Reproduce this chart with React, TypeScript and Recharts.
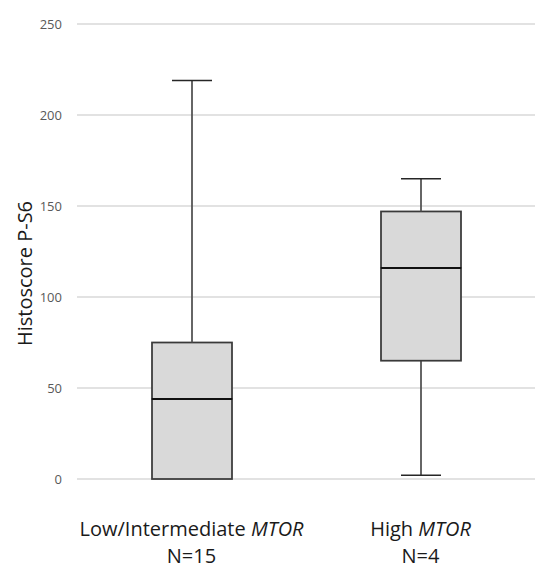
import React from "react";
import {
  ComposedChart, Bar, XAxis, YAxis, CartesianGrid,
} from "recharts";

// box plot values (Histoscore P-S6)
const groups = ["Low/Intermediate", "High"];
const counts = [15, 4];
const minVals = [0, 2];
const q1Vals = [0, 65];
const medianVals = [44, 116];
const q3Vals = [75, 147];
const maxVals = [219, 165];
const yTicks = [0, 50, 100, 150, 200, 250];

const data = groups.map((g, i) => ({
  name: g,
  n: counts[i],
  base: minVals[i],
  lowWhisker: q1Vals[i] - minVals[i],
  lowBox: medianVals[i] - q1Vals[i],
  highBox: q3Vals[i] - medianVals[i],
  highWhisker: maxVals[i] - q3Vals[i],
}));

const FONT = "'Open Sans', 'DejaVu Sans', sans-serif";
const BOX_FILL = "#d9d9d9";
const BOX_STROKE = "#3a3a3a";
const WHISKER = "#505050";
const CAP = 40;

const Empty = () => null;

const LowWhisker = (p: any) => {
  const { x, y, width, height } = p;
  if (!height || height <= 0) return null;
  const cx = x + width / 2;
  return (
    <g>
      <line x1={cx} x2={cx} y1={y} y2={y + height} stroke={WHISKER} strokeWidth={1.75} />
      <line x1={cx - CAP / 2} x2={cx + CAP / 2} y1={y + height} y2={y + height} stroke="#262626" strokeWidth={1.5} />
    </g>
  );
};

const HighWhisker = (p: any) => {
  const { x, y, width, height } = p;
  if (!height || height <= 0) return null;
  const cx = x + width / 2;
  return (
    <g>
      <line x1={cx} x2={cx} y1={y} y2={y + height} stroke={WHISKER} strokeWidth={1.75} />
      <line x1={cx - CAP / 2} x2={cx + CAP / 2} y1={y} y2={y} stroke="#262626" strokeWidth={1.5} />
    </g>
  );
};

const BoxPart = (p: any) => {
  const { x, y, width, height } = p;
  return (
    <rect x={x} y={y} width={width} height={Math.max(height, 0)} fill={BOX_FILL} stroke={BOX_STROKE} strokeWidth={1.75} />
  );
};

const UpperBox = (p: any) => {
  const { x, y, width, height } = p;
  return (
    <g>
      <rect x={x} y={y} width={width} height={Math.max(height, 0)} fill={BOX_FILL} stroke={BOX_STROKE} strokeWidth={1.75} />
      <line x1={x} x2={x + width} y1={y + height} y2={y + height} stroke="#111" strokeWidth={2} />
    </g>
  );
};

const GroupTick = (p: any) => {
  const { x, y, payload } = p;
  const row = data[payload.index] ?? data.find((d) => d.name === payload.value);
  return (
    <text x={x} y={y} textAnchor="middle" fontFamily={FONT} fontSize={20} fill="#1a1a1a">
      <tspan x={x} dy={49}>
        {row.name} <tspan fontStyle="italic">MTOR</tspan>
      </tspan>
      <tspan x={x} dy={27}>N={row.n}</tspan>
    </text>
  );
};

const YLabel = (p: any) => {
  const vb = p.viewBox;
  const cx = 24;
  const cy = vb.y + vb.height / 2 + 22;
  return (
    <text
      x={cx}
      y={cy}
      transform={`rotate(-90, ${cx}, ${cy})`}
      textAnchor="middle"
      dominantBaseline="central"
      fontFamily={FONT}
      fontSize={20}
      fill="#1a1a1a"
    >
      Histoscore P-S6
    </text>
  );
};

export default function App() {
  return (
    <div style={{ position: "absolute", left: 0, top: 0, width: 540, height: 568, background: "#fff" }}>
      <ComposedChart
        width={540}
        height={568}
        data={data}
        margin={{ top: 24, right: 5, left: 0, bottom: 0 }}
        barCategoryGap="0%"
      >
        <CartesianGrid vertical={false} stroke="#d9d9d9" strokeWidth={1.5} />
        <XAxis
          dataKey="name"
          height={89}
          axisLine={false}
          tickLine={false}
          interval={0}
          tick={<GroupTick />}
        />
        <YAxis
          width={77}
          domain={[0, 250]}
          ticks={yTicks}
          axisLine={false}
          tickLine={false}
          tickMargin={9}
          tick={{ fill: "#595959", fontSize: 13, fontFamily: FONT }}
          label={{ content: <YLabel /> }}
        />
        <Bar dataKey="base" stackId="box" barSize={80} fill="none" shape={<Empty />} isAnimationActive={false} />
        <Bar dataKey="lowWhisker" stackId="box" barSize={80} shape={<LowWhisker />} isAnimationActive={false} />
        <Bar dataKey="lowBox" stackId="box" barSize={80} shape={<BoxPart />} isAnimationActive={false} />
        <Bar dataKey="highBox" stackId="box" barSize={80} shape={<UpperBox />} isAnimationActive={false} />
        <Bar dataKey="highWhisker" stackId="box" barSize={80} shape={<HighWhisker />} isAnimationActive={false} />
      </ComposedChart>
    </div>
  );
}
